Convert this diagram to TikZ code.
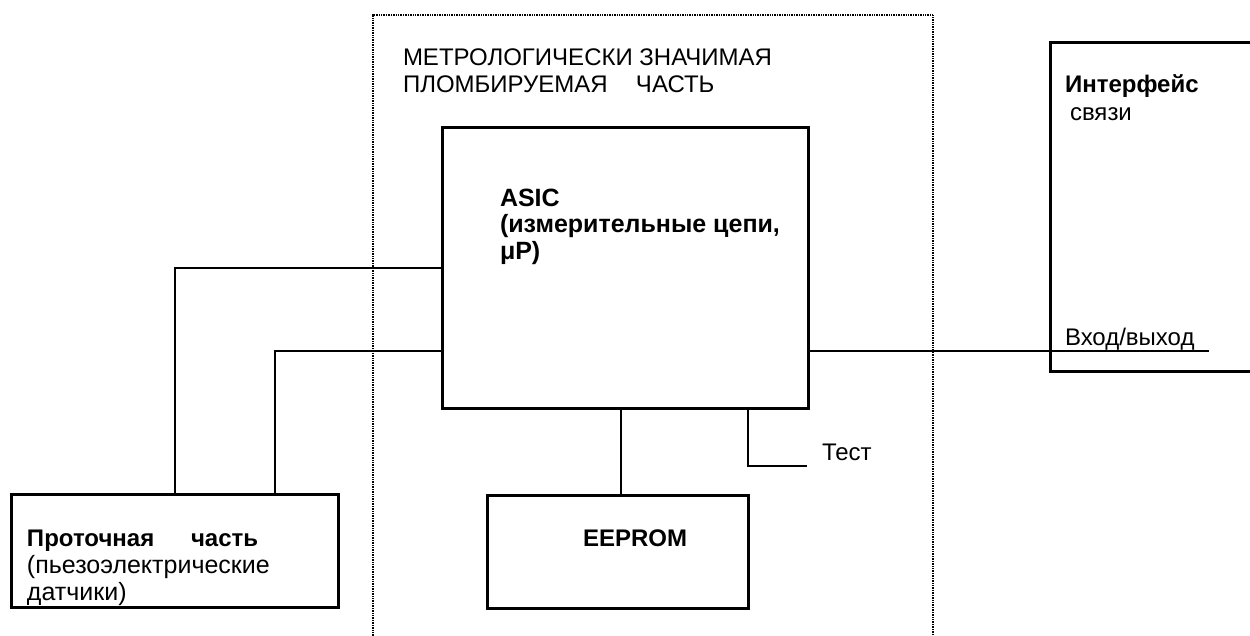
\documentclass[tikz,border=0pt]{standalone}
\usepackage{fontspec}
\setmainfont{Liberation Sans}
\begin{document}
\begin{tikzpicture}[x=1pt,y=-1pt,
  box/.style={draw, line width=3pt, anchor=north west, inner sep=0pt, outer sep=0pt},
  wire/.style={line width=2pt},
  zoneframe/.style={draw, line width=1.6pt, dash pattern=on 1pt off 0.7pt, anchor=north west, inner sep=0pt, outer sep=0pt},
  lbl/.style={anchor=base west, inner sep=0pt, outer sep=0pt}]
\useasboundingbox (0,0) rectangle (1250,635);
% metrological zone
\node[zoneframe, minimum width=560pt, minimum height=650pt] (zone) at (373,15) {};
\node[lbl, font=\fontsize{24}{26.5}\selectfont] (zonetitle) at (403,65.5)
  {\begin{tabular}[t]{@{}l@{}}МЕТРОЛОГИЧЕСКИ ЗНАЧИМАЯ\\\makebox[233pt][l]{ПЛОМБИРУЕМАЯ}ЧАСТЬ\end{tabular}};
% boxes
\node[box, minimum width=366pt, minimum height=281pt] (asic) at (442,127) {};
\node[lbl, font=\fontsize{25}{26.5}\selectfont\bfseries] (asictext) at (500,206)
  {\begin{tabular}[t]{@{}l@{}}ASIC\\(измерительные цепи,\\μP)\end{tabular}};
\node[box, minimum width=261pt, minimum height=113pt] (eeprom) at (487,495) {};
\node[lbl, font=\fontsize{24}{26}\selectfont\bfseries] (eepromtext) at (583,546) {EEPROM};
\node[box, minimum width=327pt, minimum height=113pt] (flow) at (11,494) {};
\node[lbl, font=\fontsize{25}{27}\selectfont] (flowtext) at (27,546)
  {\begin{tabular}[t]{@{}l@{}}\textbf{\fontsize{24}{27}\selectfont\makebox[164pt][l]{Проточная}часть}\\(пьезоэлектрические\\датчики)\end{tabular}};
\node[box, minimum width=300pt, minimum height=329pt] (iface) at (1050,42) {};
\node[lbl, font=\fontsize{24}{28}\selectfont] (ifacetext) at (1065,92)
  {\begin{tabular}[t]{@{}l@{}}\textbf{Интерфейс}\\\hspace{5pt}связи\end{tabular}};
\node[lbl, font=\fontsize{24}{26}\selectfont] (iotext) at (1065,345) {Вход/выход};
\node[lbl, font=\fontsize{24}{26}\selectfont] (testtext) at (822,460) {Тест};
% free ends
\coordinate (testend) at (807,466);
\coordinate (ioend) at (1209,350.5);
% connectors
\draw[wire] (asic.west) -| (flow.north);
\draw[wire] ([yshift=-83pt]asic.west) -| ([xshift=100pt]flow.north);
\draw[wire] ([xshift=-4pt]asic.south) -- ([xshift=-4pt]asic.south |- eeprom.north);
\draw[wire] (asic.south -| eeprom.east) |- (testend);
\draw[wire] ([yshift=-83pt]asic.east) -- (ioend);
\end{tikzpicture}
\end{document}
